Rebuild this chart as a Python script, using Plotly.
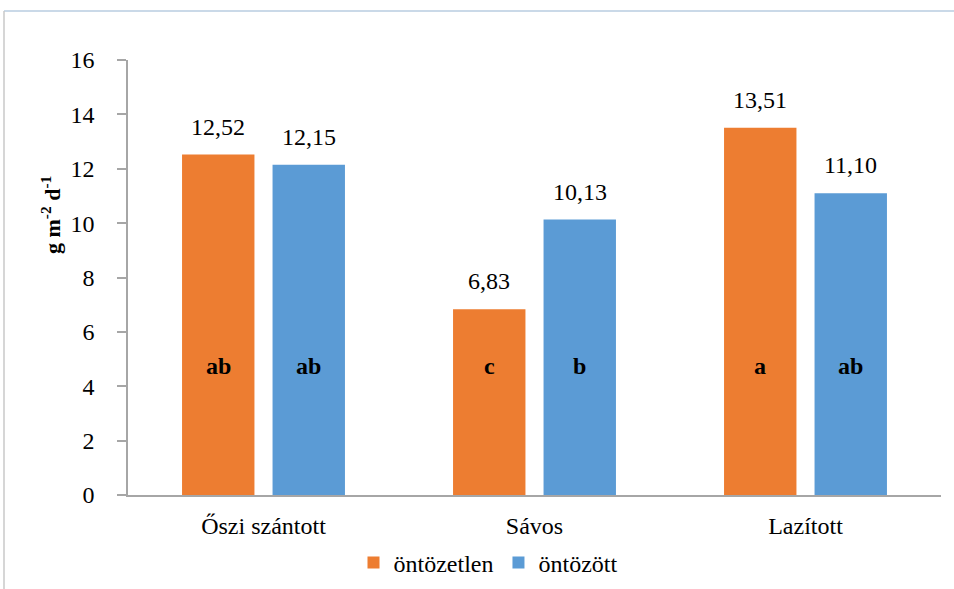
import plotly.graph_objects as go

categories = ["Őszi szántott", "Sávos", "Lazított"]
series_names = ["öntözetlen", "öntözött"]
ontozetlen = [12.52, 6.83, 13.51]
ontozott = [12.15, 10.13, 11.10]
letters_ontozetlen = ["ab", "c", "a"]
letters_ontozott = ["ab", "b", "ab"]
y_ticks = [0, 2, 4, 6, 8, 10, 12, 14, 16]

colors = ["#ED7D31", "#5B9BD5"]
FONT = "Liberation Serif"

W, H = 954, 589
ML, MR, MT, MB = 128, 13, 60, 94
BARGAP = 0.332
BARGROUPGAP = 0.2
plot_w = W - ML - MR
plot_h = H - MT - MB
cat_w = plot_w / len(categories)
offset = cat_w * (1 - BARGAP) / 4

def fmt(v):
    return f"{v:.2f}".replace(".", ",")

fig = go.Figure()
for name, vals, col in zip(series_names, [ontozetlen, ontozott], colors):
    fig.add_trace(go.Bar(x=categories, y=vals, name=name, marker=dict(color=col, line=dict(width=0))))

annotations = []
for sign, vals, lets in [(-1, ontozetlen, letters_ontozetlen), (1, ontozott, letters_ontozott)]:
    for c, v, l in zip(categories, vals, lets):
        annotations.append(dict(x=c, y=v, xref="x", yref="y", text=fmt(v), showarrow=False,
                                xshift=sign * offset, yanchor="bottom", yshift=13,
                                font=dict(family=FONT, size=24, color="#000000")))
        annotations.append(dict(x=c, y=4.75, xref="x", yref="y", text=f"<b>{l}</b>", showarrow=False,
                                xshift=sign * offset, yanchor="middle",
                                font=dict(family=FONT, size=24, color="#000000")))

annotations.append(dict(x=(51 - ML) / plot_w, y=(H - MB - 215) / plot_h, xref="paper", yref="paper",
                        text="<b>g m<sup>-2</sup> d<sup>-1</sup></b>", textangle=-90, showarrow=False,
                        xanchor="center", yanchor="middle",
                        font=dict(family=FONT, size=22, color="#000000")))

fig.update_layout(
    width=W, height=H,
    margin=dict(l=ML, r=MR, t=MT, b=MB, autoexpand=False),
    paper_bgcolor="white", plot_bgcolor="white",
    barmode="group", bargap=BARGAP, bargroupgap=BARGROUPGAP,
    font=dict(family=FONT, size=24, color="#000000"),
    showlegend=True,
    legend=dict(orientation="h", x=(488 - ML) / plot_w, xanchor="center",
                y=-(563 - (H - MB)) / plot_h, yanchor="middle",
                font=dict(family=FONT, size=24), itemwidth=30, traceorder="normal"),
    annotations=annotations,
    shapes=[
        dict(type="line", xref="paper", yref="paper", x0=(4 - ML) / plot_w, x1=(W - ML) / plot_w,
             y0=(H - MB - 11) / plot_h, y1=(H - MB - 11) / plot_h,
             line=dict(color="#B8CCE0", width=1.5)),
        dict(type="line", xref="paper", yref="paper", x0=(4 - ML) / plot_w, x1=(4 - ML) / plot_w,
             y0=(H - MB - 11) / plot_h, y1=-MB / plot_h,
             line=dict(color="#C9C9C9", width=1.5)),
    ],
)
fig.update_yaxes(range=[0, 16], tickvals=y_ticks, showgrid=False, zeroline=False, automargin=False,
                 showline=True, linecolor="#A6A6A6", linewidth=1.5,
                 ticks="outside", ticklen=9, tickcolor="#A6A6A6", tickwidth=1.5,
                 ticklabelstandoff=18, tickfont=dict(family=FONT, size=24))
fig.update_xaxes(showgrid=False, showline=True, linecolor="#A6A6A6", linewidth=1.5, automargin=False,
                 ticks="", ticklabelstandoff=8, tickfont=dict(family=FONT, size=24))

fig.write_html("out.html", config={"displayModeBar": False},
               post_script="document.body.style.margin='0';document.body.style.overflow='hidden';"
                           "document.documentElement.style.overflow='hidden';")
